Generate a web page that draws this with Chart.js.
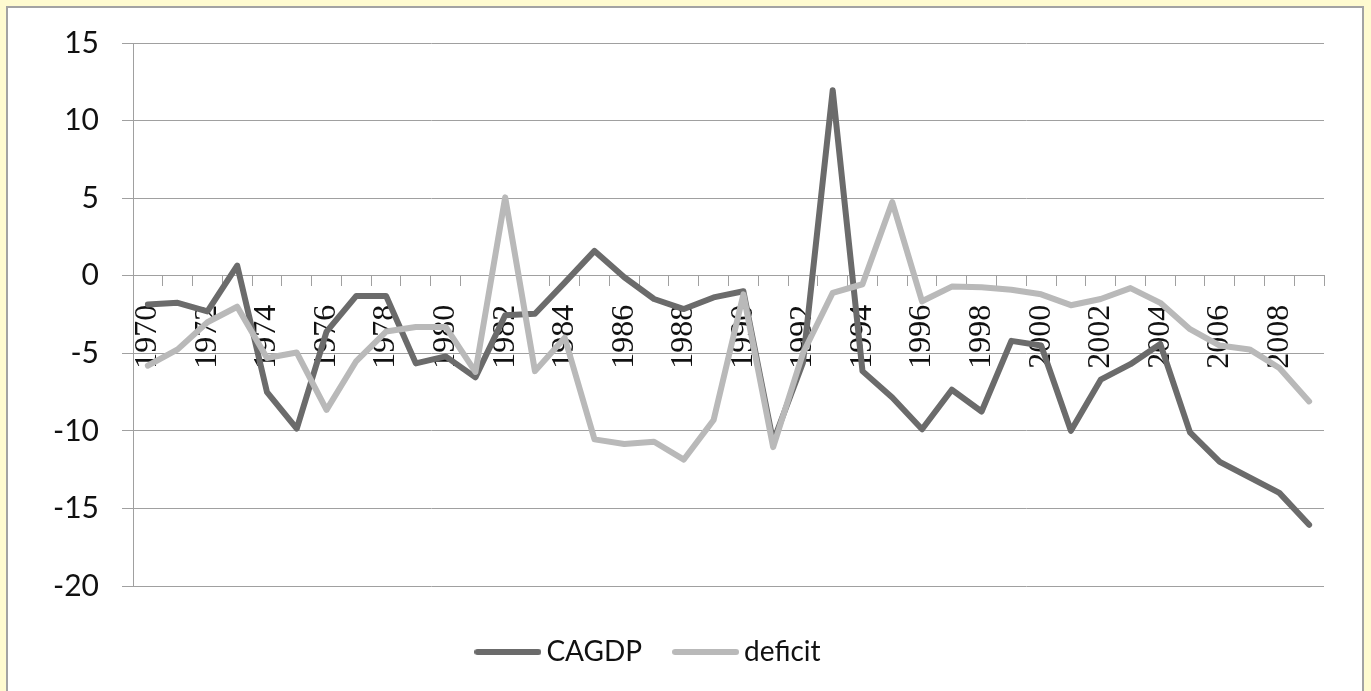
<!DOCTYPE html>
<html>
<head>
<meta charset="utf-8">
<script src="https://cdn.jsdelivr.net/npm/chart.js@4/dist/chart.umd.min.js"></script>
<style>
  html, body { margin: 0; padding: 0; background: #fffbd0; overflow: hidden; }
  #panel {
    position: absolute; left: 6px; top: 6px;
    width: 1354px; height: 720px;
    background: #ffffff;
    border: 2px solid #a3a3a3;
  }
  #chart { position: absolute; left: 0; top: 0; }
</style>
</head>
<body>
<div id="panel"></div>
<canvas id="chart" width="1371" height="691"></canvas>
<script>
// Years on the category axis
const years = [
  '1970','1971','1972','1973','1974','1975','1976','1977','1978','1979',
  '1980','1981','1982','1983','1984','1985','1986','1987','1988','1989',
  '1990','1991','1992','1993','1994','1995','1996','1997','1998','1999',
  '2000','2001','2002','2003','2004','2005','2006','2007','2008','2009'
];

// Current account balance, % of GDP
const cagdp = [
  -1.85, -1.75, -2.3, 0.65, -7.5, -9.85, -3.6, -1.3, -1.3, -5.65,
  -5.2, -6.55, -2.55, -2.45, -0.45, 1.6, -0.1, -1.5, -2.15, -1.4,
  -1.0, -10.7, -5.6, 11.95, -6.15, -7.85, -9.9, -7.35, -8.75, -4.2,
  -4.5, -10.0, -6.7, -5.7, -4.4, -10.1, -12.0, -13.0, -14.0, -16.05
];

// Budget deficit, % of GDP
const deficit = [
  -5.8, -4.75, -3.0, -2.0, -5.3, -4.95, -8.65, -5.5, -3.6, -3.3,
  -3.3, -6.2, 5.05, -6.15, -4.0, -10.55, -10.85, -10.7, -11.85, -9.3,
  -1.2, -11.05, -5.0, -1.1, -0.55, 4.75, -1.65, -0.7, -0.75, -0.9,
  -1.2, -1.9, -1.5, -0.8, -1.75, -3.45, -4.5, -4.75, -5.95, -8.1
];

// Value-axis ticks
const yTicks = [-20, -15, -10, -5, 0, 5, 10, 15];

const gridGrey = '#a0a0a0';
const darkGrey = '#6b6b6b';
const lightGrey = '#b9b9b9';

// Legend swatch: a short round-capped stroke in the series colour
function swatch(color) {
  const cv = document.createElement('canvas');
  cv.width = 67; cv.height = 8;
  const g = cv.getContext('2d');
  g.strokeStyle = color;
  g.lineWidth = 6;
  g.lineCap = 'round';
  g.beginPath();
  g.moveTo(3, 4);
  g.lineTo(64, 4);
  g.stroke();
  return cv;
}

// Nudges the legend block so it sits centred under the plot
const legendNudge = {
  id: 'legendNudge',
  afterLayout(chart, args, opts) {
    const l = chart.legend;
    if (!l) return;
    l.left += opts.dx; l.right += opts.dx;
    l.top += opts.dy; l.bottom += opts.dy;
  }
};

new Chart(document.getElementById('chart'), {
  type: 'line',
  data: {
    labels: years,
    datasets: [
      {
        label: 'CAGDP',
        data: cagdp,
        borderColor: darkGrey,
        backgroundColor: darkGrey,
        borderWidth: 6,
        borderJoinStyle: 'round',
        borderCapStyle: 'round',
        pointStyle: swatch(darkGrey),
        pointRadius: 0,
        tension: 0,
        order: 1
      },
      {
        label: 'deficit',
        data: deficit,
        borderColor: lightGrey,
        backgroundColor: lightGrey,
        borderWidth: 6,
        borderJoinStyle: 'round',
        borderCapStyle: 'round',
        pointStyle: swatch(lightGrey),
        pointRadius: 0,
        tension: 0,
        order: 0
      }
    ]
  },
  options: {
    responsive: false,
    animation: false,
    devicePixelRatio: 1,
    layout: { padding: { left: 0, right: 47, top: 43, bottom: 28 } },
    plugins: {
      tooltip: { enabled: false },
      legendNudge: { dx: -10, dy: 13 },
      legend: {
        position: 'bottom',
        labels: {
          usePointStyle: true,
          pointStyleWidth: 49,
          padding: 39,
          color: '#111111',
          font: { family: 'Lato', size: 28 },
          sort: (a, b) => a.datasetIndex - b.datasetIndex
        }
      }
    },
    scales: {
      x: {
        type: 'category',
        position: { y: 0 },
        offset: true,
        grid: {
          offset: true,
          drawOnChartArea: false,
          drawTicks: true,
          tickLength: 10,
          color: gridGrey,
          lineWidth: 1
        },
        border: { display: true, color: gridGrey, width: 1 },
        ticks: {
          autoSkip: false,
          minRotation: 90,
          maxRotation: 90,
          padding: 19,
          color: '#111111',
          font: { family: 'Liberation Serif', size: 32 },
          callback: (v, i) => (i % 2 === 0 ? years[i] : '')
        }
      },
      y: {
        min: yTicks[0],
        max: yTicks[yTicks.length - 1],
        afterBuildTicks: (scale) => { scale.ticks = yTicks.map(v => ({ value: v })); },
        afterFit: (scale) => { scale.width = 133; },
        grid: { color: gridGrey, lineWidth: 1, tickLength: 11 },
        border: { display: true, color: gridGrey, width: 1 },
        ticks: {
          padding: 23,
          color: '#111111',
          font: { family: 'Lato', size: 30 }
        }
      }
    }
  },
  plugins: [legendNudge]
});
</script>
</body>
</html>
